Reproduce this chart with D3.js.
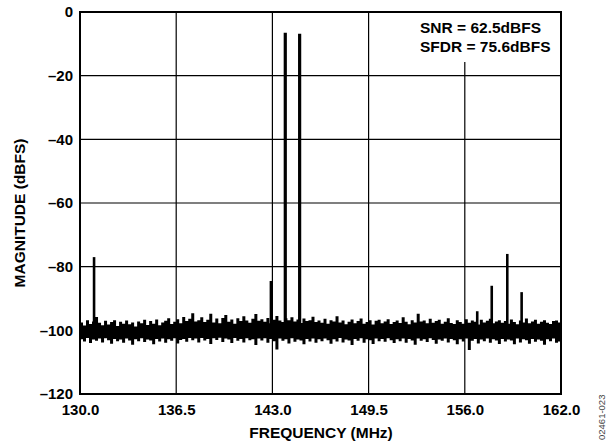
<!DOCTYPE html>
<html>
<head>
<meta charset="utf-8">
<script src="https://cdn.jsdelivr.net/npm/d3@7"></script>
<style>
  body { margin: 0; background: #fff; }
  svg text { font-family: "Liberation Sans", Arial, sans-serif; font-weight: bold; fill: #000; }
  .axis path, .axis line { display: none; }
</style>
</head>
<body>
<svg id="chart"></svg>
<script>
// tick labels (x ticks are evenly spaced in the original plot)
const xTickLabels = ['130.0', '136.5', '143.0', '149.5', '156.0', '162.0'];
const yTicks = [0, -20, -40, -60, -80, -100, -120];

// noise floor envelope per display column (dBFS), 130.0 -> 162.5 MHz
const noiseTop = [
  -97.5,-98.5,-96.8,-98,-97.2,-95.8,-97.6,-98.4,-97,-98.2,-97.4,-96.8,-98.6,-97.3,-97.9,-96.9,-98.1,-97.5,-98.8,-97.2,
  -97.8,-96.7,-98.3,-97.1,-97.9,-96.6,-98.4,-97.5,-97,-96.2,-98,-97.3,-96.5,-97.8,-95.8,-97.1,-96.4,-94.6,-97.2,-96.8,
  -95.9,-97.4,-96.7,-94.8,-97.5,-96.3,-97.8,-96.1,-95.2,-97.3,-96.6,-97.9,-96.2,-97.1,-95.6,-96.9,-97.6,-96.4,-94.9,-97,
  -96.5,-97.3,-96.1,-97.8,-96.7,-95.5,-96.9,-97.4,-96.2,-96.8,-95.9,-97.2,-96.6,-97.7,-96.3,-97.1,-96.8,-95.7,-97.4,-96.9,
  -97.6,-96.4,-97.9,-96.8,-97.2,-95.6,-97.5,-96.9,-98.1,-97.3,-96.6,-97.8,-97.1,-96.3,-97.9,-97.4,-96.8,-98.2,-97,-96.7,
  -97.8,-97.2,-96.5,-98,-97.4,-96.9,-97.7,-95.9,-97.3,-98.1,-96.8,-97.5,-94.8,-97.2,-96.9,-97.8,-96.4,-97.6,-97.1,-96.7,
  -97.9,-97.3,-96.2,-97.7,-98,-96.8,-97.4,-97.9,-96.5,-97.6,-96.9,-97.3,-98.2,-96.7,-97.5,-97,-96.4,-97.8,-97.2,-96.8,
  -97.6,-97.1,-97.9,-96.6,-97.4,-98.1,-96.9,-97.5,-96.3,-97.8,-97.2,-96.7,-97.9,-97.3,-96.8,-97.6,-98,-97.1,-96.9,-97.5
];
const noiseBottom = [
  -102.8,-103.5,-102.4,-104,-102.9,-103.3,-102.6,-103.8,-102.5,-103.1,-104.2,-102.7,-103.4,-102.9,-103.9,-102.6,-103.2,-104.5,-102.8,-103.4,
  -102.5,-103.7,-102.9,-103.2,-104.4,-102.7,-103.5,-102.6,-103.9,-102.8,-103.3,-102.5,-104.1,-103,-102.7,-103.6,-102.4,-103.1,-102.6,-103.8,
  -102.4,-103.2,-102.7,-104.3,-102.5,-103,-102.3,-103.7,-102.6,-102.9,-104,-102.4,-103.3,-102.7,-103.8,-102.5,-103.1,-102.8,-104.6,-102.6,
  -103.2,-102.5,-103.9,-102.7,-103.4,-106,-102.6,-103.3,-102.8,-104.1,-102.5,-103.6,-102.9,-103.2,-104.4,-102.7,-103.5,-102.6,-103.9,-102.8,
  -103.4,-102.6,-103.1,-104.2,-102.8,-103.5,-102.4,-103.8,-102.9,-103.2,-104.6,-102.7,-103.3,-102.5,-103.9,-102.8,-103.1,-104.3,-102.6,-103.4,
  -102.7,-103.6,-102.5,-103.1,-104,-102.8,-103.4,-102.6,-103.9,-102.7,-103.2,-104.5,-102.6,-103.3,-102.8,-103.7,-102.5,-103,-104.2,-102.9,
  -103.3,-102.6,-103.8,-102.7,-103.1,-104.4,-102.8,-103.5,-102.6,-106.2,-103.3,-102.7,-104.1,-102.9,-103.4,-102.6,-103.9,-102.8,-103.2,-104.3,
  -102.7,-103.5,-102.9,-103.2,-104.4,-102.6,-103.8,-102.8,-103.1,-104.2,-102.7,-103.6,-102.9,-103.3,-104.5,-102.8,-103.4,-102.6,-103.9,-103.5
];

// tones and spurs
const spurFreqs = [130.95, 142.9, 143.87, 144.84, 156.84, 157.82, 158.87, 159.84];
const spurDb    = [-77, -84.5, -6.5, -6.8, -94, -86, -76, -88];

const notes = ['SNR = 62.5dBFS', 'SFDR = 75.6dBFS'];

const W = 607, H = 444;
const margin = {top: 12, right: 46, bottom: 50, left: 80};
const width = W - margin.left - margin.right;
const height = H - margin.top - margin.bottom;

const svg = d3.select('#chart').attr('width', W).attr('height', H);
const chart = svg.append('g').attr('transform', `translate(${margin.left},${margin.top})`);

const fMin = 130, fMax = 162.5;
const xScale = d3.scaleLinear().domain([fMin, fMax]).range([0, width]);
const yScale = d3.scaleLinear().domain([-120, 0]).range([height, 0]);
const xTickVals = xTickLabels.map((d, i) => fMin + i * 6.5);

// columns of the noise envelope
const nCol = noiseTop.length;
const colScale = d3.scaleLinear().domain([0, nCol]).range([fMin, fMax]);
const noise = noiseTop.map((t, i) => ({f: colScale(i), hi: t, lo: noiseBottom[i]}));
noise.push({f: fMax, hi: noiseTop[nCol - 1], lo: noiseBottom[nCol - 1]});

// gridlines
chart.append('g')
  .selectAll('line')
  .data(xTickVals.slice(1, -1))
  .join('line')
    .attr('x1', d => xScale(d)).attr('x2', d => xScale(d))
    .attr('y1', 0).attr('y2', height)
    .attr('stroke', '#000').attr('stroke-width', 1.2);

chart.append('g')
  .selectAll('line')
  .data(yTicks.slice(1, -1))
  .join('line')
    .attr('x1', 0).attr('x2', width)
    .attr('y1', d => yScale(d)).attr('y2', d => yScale(d))
    .attr('stroke', '#000').attr('stroke-width', 1.2);

// white box under the annotation
chart.append('rect')
  .attr('x', 335).attr('y', 0)
  .attr('width', width - 335).attr('height', 50)
  .attr('fill', '#fff');

// noise floor band
const area = d3.area()
  .x(d => xScale(d.f))
  .y0(d => yScale(d.lo))
  .y1(d => yScale(d.hi))
  .curve(d3.curveStepAfter);

chart.append('path')
  .datum(noise)
  .attr('fill', '#000')
  .attr('d', area);

// tones / spurs
chart.append('g')
  .selectAll('line')
  .data(spurFreqs.map((f, i) => ({f: f, db: spurDb[i]})))
  .join('line')
    .attr('x1', d => xScale(d.f)).attr('x2', d => xScale(d.f))
    .attr('y1', yScale(-100)).attr('y2', d => yScale(d.db))
    .attr('stroke', '#000')
    .attr('stroke-width', d => d.db > -20 ? 3.2 : 2.6);

// frame
chart.append('rect')
  .attr('width', width).attr('height', height)
  .attr('fill', 'none').attr('stroke', '#000').attr('stroke-width', 2);

// axes (labels only)
const xAxis = d3.axisBottom(xScale)
  .tickValues(xTickVals)
  .tickFormat((d, i) => xTickLabels[i])
  .tickSize(0).tickPadding(10);
chart.append('g')
  .attr('class', 'axis')
  .attr('transform', `translate(0,${height})`)
  .call(xAxis)
  .selectAll('text').style('font-size', '15px');

const yAxis = d3.axisLeft(yScale)
  .tickValues(yTicks)
  .tickFormat(d => d === 0 ? '0' : '\u2013' + Math.abs(d))
  .tickSize(0).tickPadding(7);
chart.append('g')
  .attr('class', 'axis')
  .call(yAxis)
  .selectAll('text').style('font-size', '15px');

// axis titles
svg.append('text')
  .attr('x', 321)
  .attr('y', 438)
  .attr('text-anchor', 'middle')
  .style('font-size', '15.5px')
  .text('FREQUENCY (MHz)');

svg.append('text')
  .attr('transform', 'translate(25,213) rotate(-90)')
  .attr('text-anchor', 'middle')
  .style('font-size', '15.5px')
  .text('MAGNITUDE (dBFS)');

// annotation
chart.selectAll('text.note')
  .data(notes)
  .join('text')
    .attr('class', 'note')
    .attr('x', 340)
    .attr('y', (d, i) => 21 + i * 19)
    .style('font-size', '15.5px')
    .text(d => d);

// figure id
svg.append('text')
  .attr('transform', 'translate(605,440) rotate(-90)')
  .style('font-size', '9.5px')
  .style('font-weight', 'normal')
  .style('fill', '#444')
  .text('02461-023');
</script>
</body>
</html>
